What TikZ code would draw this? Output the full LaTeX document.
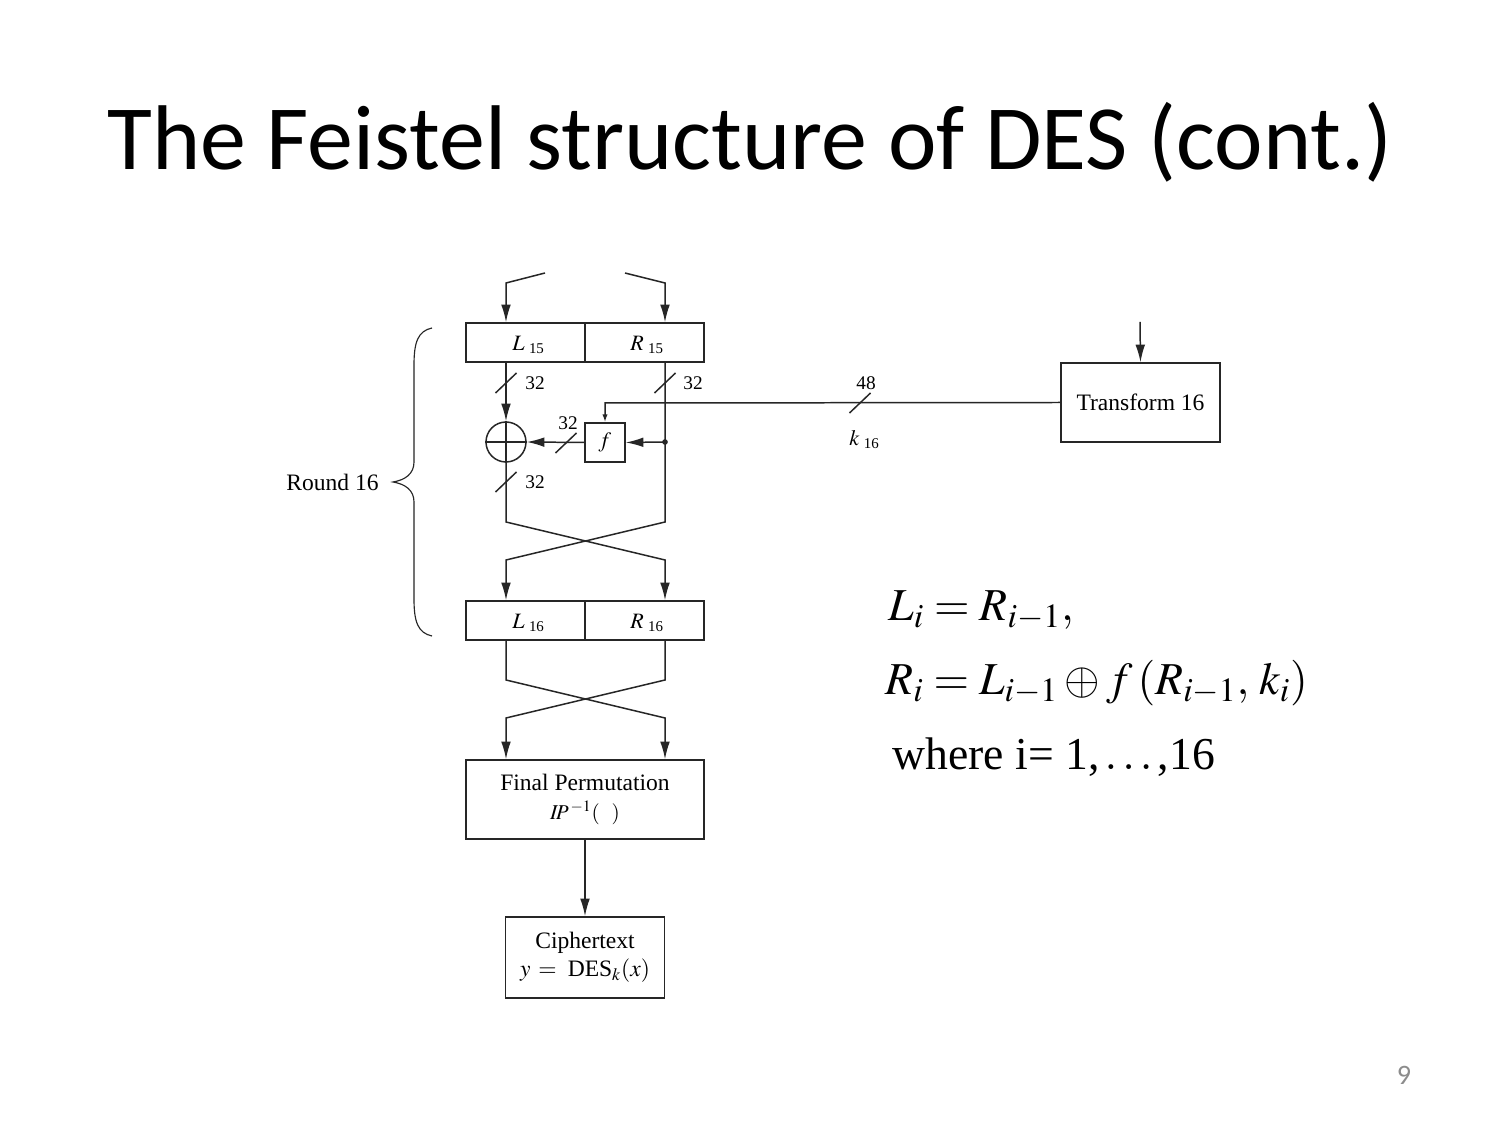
\documentclass[tikz,border=0pt]{standalone}
\usepackage{mathptmx}
\usepackage{fontspec}
\setmainfont{Liberation Serif}
\newfontfamily\calibri{Carlito}
\usetikzlibrary{arrows.meta,calc}
\newcommand\bittick[2]{\draw[ln] (#1-10.5,#2+10) -- (#1+10.5,#2-10);}
\newcommand\sublab[2]{{\fontsize{12.5}{14}\selectfont$#1$}\hspace{2.5pt}\raisebox{-1.7pt}{\fontsize{8.5}{10}\selectfont #2}}
\begin{document}
\begin{tikzpicture}[x=0.02cm,y=-0.02cm,
  ln/.style={draw=black!85,line width=0.85pt},
  arr/.style={ln,-{Latex[length=10pt,width=5.5pt]}},
  sarr/.style={ln,-{Latex[length=4.5pt,width=3pt]}},
  box/.style={ln,inner sep=0pt,align=center,font=\fontsize{13.4}{17}\selectfont},
  half/.style={box,minimum width=2.38cm,minimum height=0.78cm},
  lbl/.style={font=\fontsize{11}{13}\selectfont,inner sep=0pt},
]
\useasboundingbox[fill=white] (0,0) rectangle (1499,1124);

% title
\node[font=\calibri\fontsize{52.3}{60}\selectfont, anchor=base, inner sep=0] (title) at (750,170) {The Feistel structure of DES (cont.)};

% boxes
\node[half] (L15) at (525.5,342.5) {};
\node[half] (R15) at (644.5,342.5) {};
\node[half] (L16) at (525.5,620.5) {};
\node[half] (R16) at (644.5,620.5) {};
\node[inner sep=0pt,anchor=base west] (tL15) at (512,351) {\sublab{L}{15}};
\node[inner sep=0pt,anchor=base west] (tR15) at (630,351) {\sublab{R}{15}};
\node[inner sep=0pt,anchor=base west] (tL16) at (512,629) {\sublab{L}{16}};
\node[inner sep=0pt,anchor=base west] (tR16) at (630,629) {\sublab{R}{16}};

\node[ln,circle,minimum size=0.8cm,inner sep=0pt] (xor) at (506,442) {};
\draw[ln] (xor.north) -- (xor.south) (xor.west) -- (xor.east);
\node[box,minimum width=0.8cm,minimum height=0.78cm] (f) at (605,442.5) {\fontsize{12.5}{14}\selectfont$f$};
\coordinate (dot) at (665,442);
\fill[black!85] (dot) circle (1.6pt);

\node[box,minimum width=3.18cm,minimum height=1.58cm] (T16) at (1140.5,402.5) {Transform 16};
\node[box,minimum width=4.76cm,minimum height=1.58cm] (FP) at (585,799.5) {Final Permutation\\[-1pt] {\fontsize{12}{14}\selectfont$I\!P^{\,-1}(\;\;\,)$}};
\node[box,minimum width=3.18cm,minimum height=1.62cm] (CT) at (585,957.5) {Ciphertext\\[-1pt] $y\,=\;$ DES$_k(x)$};

% free ends
\coordinate (inL) at (545,273);
\coordinate (inR) at (625,273);
\coordinate (tin) at (1140,322);

% connectors
\draw[arr] (inL) -- (506,283) -- (L15.north -| xor);
\draw[arr] (inR) -- (665,283) -- (R15.north -| dot);
\draw[arr] (L15.south -| xor) -- (xor.north);
\draw[arr] (R15.south -| dot) -- (665,522) -- (506,560) -- (L16.north -| xor);
\draw[arr] (dot) -- (f.east);
\draw[arr] (f.west) -- (xor.east);
\draw[arr] (xor.south) -- (506,522) -- (665,560) -- (R16.north -| dot);
\draw[sarr] (T16.west) -- (605,403) -- (f.north);
\draw[arr] (tin) -- (T16.north);
\draw[arr] (L16.south -| xor) -- (506,680) -- (665,718) -- (FP.north -| dot);
\draw[arr] (R16.south -| dot) -- (665,680) -- (506,718) -- (FP.north -| xor);
\draw[arr] (FP.south) -- (CT.north);

% bit-width ticks and labels
\bittick{506}{383}
\bittick{665}{383}
\bittick{566}{443}
\bittick{506}{482}
\bittick{860}{403}
\node[lbl] (w1) at (535,383) {32};
\node[lbl] (w2) at (693,383) {32};
\node[lbl] (w3) at (568,423) {32};
\node[lbl] (w4) at (535,482) {32};
\node[lbl] (w5) at (866,383) {48};
\node[inner sep=0pt] (k16) at (864,440) {\sublab{k}{16}};

% brace
\draw[ln,line width=0.65pt] (432,328) .. controls (418,331) and (414,342) .. (414,365)
  -- (414,462) .. controls (414,474) and (405,480) .. (393,482)
  .. controls (405,484) and (414,490) .. (414,502)
  -- (414,599) .. controls (414,622) and (418,633) .. (432,636);
\node[anchor=east,font=\fontsize{13.4}{17}\selectfont,inner sep=0pt] (round) at (379,482) {Round 16};

% equations
\node[anchor=base west,font=\fontsize{26}{30}\selectfont,inner sep=0pt] (eq1) at (888,621) {$L_i = R_{i-1},$};
\node[anchor=base west,font=\fontsize{26}{30}\selectfont,inner sep=0pt] (eq2) at (885,695) {$R_i = L_{i-1} \oplus f\,(R_{i-1},\,k_i)$};
\node[anchor=base west,font=\fontsize{26}{30}\selectfont,inner sep=0pt] (eq3) at (892,770) {where i= 1,$\,\ldots\,$,16};

% page number
\node[font=\calibri\fontsize{16}{18}\selectfont,text=black!45,inner sep=0pt] (pg) at (1404,1075) {9};
\end{tikzpicture}
\end{document}
